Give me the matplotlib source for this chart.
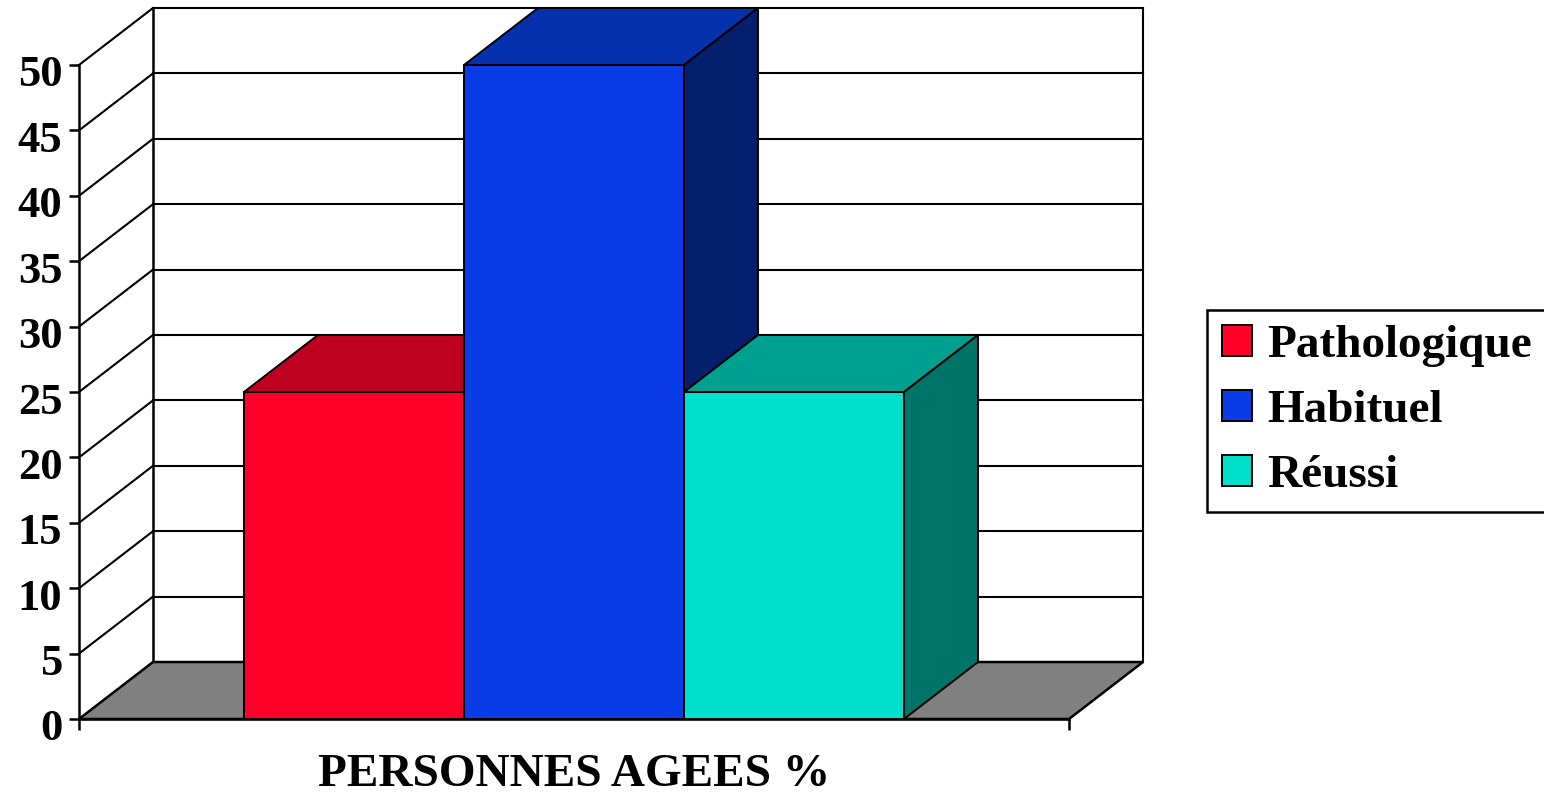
import numpy as np
import matplotlib
matplotlib.use("Agg")
import matplotlib.pyplot as plt
import matplotlib.transforms as mtransforms
from matplotlib.patches import Polygon, Patch

series = ["Pathologique", "Habituel", "Réussi"]
values = [25, 50, 25]
front_colors = ["#FF0029", "#0A3CE8", "#00E0CC"]
top_colors = ["#BD0020", "#0530AE", "#00A090"]
side_colors = ["#8A0018", "#041F6E", "#007468"]
yticks = list(range(0, 51, 5))
xlabel = "PERSONNES AGEES %"

plt.rcParams["font.family"] = ["Liberation Serif", "DejaVu Serif"]
plt.rcParams["font.weight"] = "bold"

W, H = 1544, 794
fig = plt.figure(figsize=(W / 100, H / 100), dpi=100)
ax = fig.add_axes([79 / W, (H - 719) / H, 990 / W, 654 / H])
ax.set_xlim(0, 1)
ax.set_ylim(0, 50)

# depth offset of the oblique view, in data units
DX = 74 / 990
DY = 57 / (654 / 50)
ymax = yticks[-1]

# back wall and left wall
ax.add_patch(Polygon([(DX, DY), (1 + DX, DY), (1 + DX, ymax + DY), (DX, ymax + DY)],
                     closed=True, facecolor="white", edgecolor="none", zorder=0.5, clip_on=False))
for v in yticks[1:]:
    ax.plot([DX, 1 + DX], [v + DY, v + DY], color="black", lw=1.5, zorder=1, clip_on=False)
    ax.plot([0, DX], [v, v + DY], color="black", lw=1.5, zorder=1, clip_on=False)
ax.plot([DX, DX], [DY, ymax + DY], color="black", lw=1.8, zorder=1, clip_on=False)
ax.plot([1 + DX, 1 + DX], [DY, ymax + DY], color="black", lw=1.5, zorder=1, clip_on=False)

# floor
ax.add_patch(Polygon([(0, 0), (1, 0), (1 + DX, DY), (DX, DY)], closed=True,
                     facecolor="#808080", edgecolor="black", lw=1.8, zorder=1.5, clip_on=False))

# 3d bars, gap width 150%
gap = 1.5
bw = 1 / (len(values) + gap)
x0 = gap / 2 * bw
for i, v in enumerate(values):
    a = x0 + i * bw
    b = a + bw
    kw = dict(closed=True, edgecolor="black", lw=1.4, joinstyle="miter", clip_on=False)
    ax.add_patch(Polygon([(a, 0), (b, 0), (b, v), (a, v)], facecolor=front_colors[i],
                         zorder=3 + i, **kw))
    ax.add_patch(Polygon([(a, v), (b, v), (b + DX, v + DY), (a + DX, v + DY)],
                         facecolor=top_colors[i], zorder=3 + i, **kw))
    ax.add_patch(Polygon([(b, 0), (b + DX, DY), (b + DX, v + DY), (b, v)],
                         facecolor=side_colors[i], zorder=3 + i, **kw))

for s in ["top", "right"]:
    ax.spines[s].set_visible(False)
for s in ["left", "bottom"]:
    ax.spines[s].set_linewidth(1.8)
    ax.spines[s].set_zorder(10)
ax.patch.set_visible(False)

ax.set_yticks(yticks)
ax.set_yticklabels([str(t) for t in yticks], fontsize=32, fontweight="bold")
ax.tick_params(axis="y", direction="out", length=7, width=1.8, pad=5)
shift = mtransforms.ScaledTranslation(0, -6 / 100, fig.dpi_scale_trans)
for lab in ax.get_yticklabels():
    lab.set_transform(lab.get_transform() + shift)
ax.set_xticks([0, 1])
ax.set_xticklabels([])
ax.tick_params(axis="x", direction="out", length=8, width=1.8)
ax.set_xlabel(xlabel, fontsize=34, fontweight="bold", labelpad=14)

handles = [Patch(facecolor=c, edgecolor="black", lw=1.4) for c in front_colors]
leg = fig.legend(handles, series, loc="upper left", bbox_to_anchor=(1207 / W, 1 - 310 / H),
                 prop={"weight": "bold", "size": 34}, frameon=True, fancybox=False,
                 framealpha=1, borderaxespad=0, borderpad=0.32, handlelength=0.64,
                 handleheight=0.64, handletextpad=0.32, labelspacing=0.48)
leg.get_frame().set_edgecolor("black")
leg.get_frame().set_linewidth(1.8)

fig.savefig("out.png", dpi=100)
